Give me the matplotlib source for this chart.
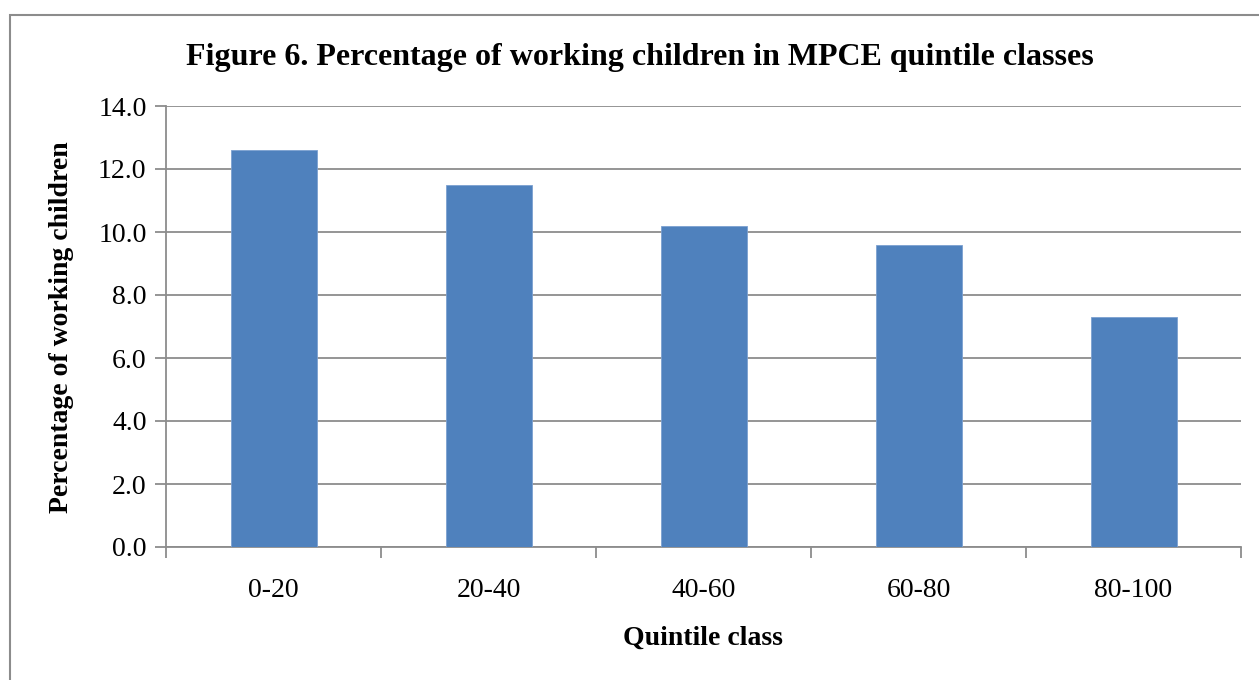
import matplotlib.pyplot as plt
from matplotlib.patches import Rectangle

# data
classes = ["0-20", "20-40", "40-60", "60-80", "80-100"]
pct_working = [12.6, 11.5, 10.2, 9.6, 7.3]
yticks = [0, 2, 4, 6, 8, 10, 12, 14]

plt.rcParams['font.family'] = ['Liberation Serif', 'DejaVu Serif']

W, H = 1259, 680
fig = plt.figure(figsize=(W / 100, H / 100), dpi=100)

# outer chart frame (only left/top visible in the crop)
fig.patches.append(Rectangle((10 / W, -0.1), 1.2, 1 - 15 / H + 0.1,
                             transform=fig.transFigure, fill=False,
                             edgecolor='#8c8c8c', linewidth=1.5))

ax = fig.add_axes([166 / W, 1 - 547 / H, (1241 - 166) / W, (547 - 106) / H])

x = list(range(len(classes)))
ax.bar(x, pct_working, width=0.4, color='#4f81bd', edgecolor='#7ca0d0',
       linewidth=0.6, zorder=3)

ax.set_xlim(-0.5, len(classes) - 0.5)
ax.set_ylim(0, 14)
ax.set_yticks(yticks)
ax.set_yticklabels([f"{v:.1f}" for v in yticks])
ax.set_xticks(x)
ax.set_xticklabels(classes)
ax.grid(axis='y', color='#8c8c8c', linewidth=1.3, zorder=0)

# category boundary ticks on x axis
ax.set_xticks([i - 0.5 for i in range(len(classes) + 1)], minor=True)
ax.tick_params(axis='x', which='major', length=0, pad=22, labelsize=20)
ax.tick_params(axis='x', which='minor', length=8, width=1.3, color='#8c8c8c')
ax.tick_params(axis='y', length=8, width=1.3, color='#8c8c8c', pad=6,
               labelsize=20)

for s in ['top', 'right']:
    ax.spines[s].set_visible(False)
for s in ['left', 'bottom']:
    ax.spines[s].set_color('#8c8c8c')
    ax.spines[s].set_linewidth(1.3)

fig.text(640 / W, 1 - 57 / H,
         "Figure 6. Percentage of working children in MPCE quintile classes",
         ha='center', va='center', fontsize=23, fontweight='bold')
fig.text(703 / W, 1 - 638 / H, "Quintile class", ha='center', va='center',
         fontsize=20, fontweight='bold')
fig.text(62 / W, 1 - 327 / H, "Percentage of working children", ha='center',
         va='center', rotation=90, fontsize=20, fontweight='bold')

fig.savefig("out.png", dpi=100)
